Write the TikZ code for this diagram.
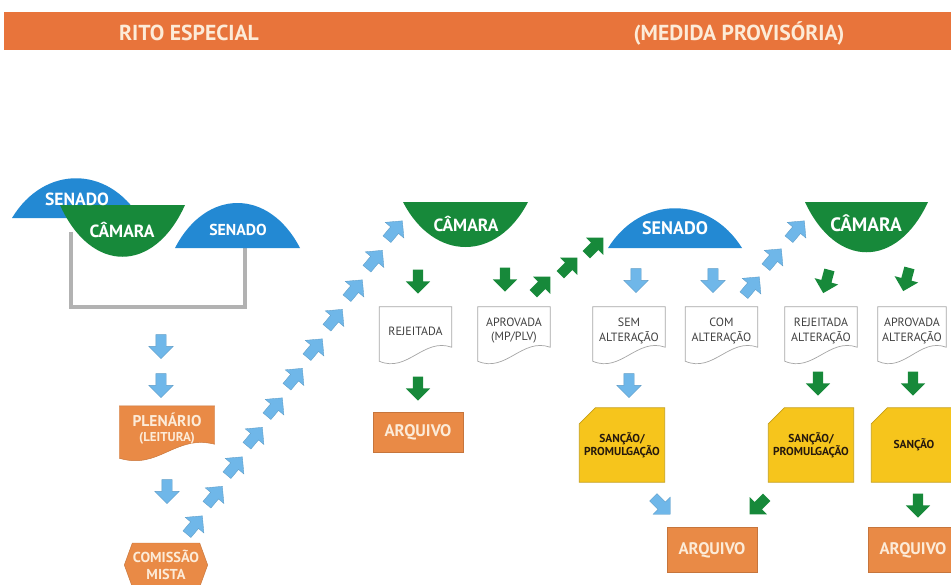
\documentclass[tikz,border=0pt]{standalone}
\usepackage{fontspec}
\setmainfont{PT Sans}
\usepackage{xcolor}
\usepackage{tikz}
\usetikzlibrary{shapes.arrows,shapes.symbols,calc,backgrounds}

\definecolor{faixa}{HTML}{E8743B}
\definecolor{azul}{HTML}{2389D3}
\definecolor{verde}{HTML}{17893A}
\definecolor{azulclaro}{HTML}{6FB7E9}
\definecolor{laranja}{HTML}{E98A46}
\definecolor{amarelo}{HTML}{F6C51C}
\definecolor{creme}{HTML}{FCEBD8}

% folha com borda ondulada em baixo
\newcommand{\docshape}[2]{%
  \begin{scope}[on background layer]
  \filldraw[#2] (#1.north west) -- (#1.north east) -- ($(#1.south east)+(0,-8)$)
    .. controls ($(#1.south)+(8,-18)$) and ($(#1.south)+(-8,18)$) .. ($(#1.south west)+(0,6)$) -- cycle;
  \end{scope}}
% caixa com o canto de cima cortado
\newcommand{\chanfro}[2]{%
  \begin{scope}[on background layer]
  \filldraw[#2] ($(#1.north west)+(0,16)$) -- ($(#1.north west)+(16,0)$) -- (#1.north east)
    -- (#1.south east) -- (#1.south west) -- cycle;
  \end{scope}}

\begin{document}
\begin{tikzpicture}[x=0.03cm,y=-0.03cm,
    seta/.style={single arrow, inner xsep=0pt, inner ysep=0.15cm, minimum height=0.72cm,
      single arrow head extend=0.21cm, single arrow head indent=0pt},
    sa/.style={seta, fill=azulclaro, draw=azulclaro!85!black, line width=0.3pt},
    sv/.style={seta, fill=verde},
    cupula/.style={text=white, font=\bfseries\fontsize{15}{16}\selectfont},
    titulo/.style={text=creme, font=\bfseries\fontsize{18.5}{20}\selectfont},
    doc/.style={minimum width=2.16cm, minimum height=1.44cm, inner sep=0pt, align=center,
      text=black!75, font=\fontsize{10.2}{12}\selectfont},
    folha/.style={fill=white, draw=black!35, line width=0.6pt},
    arq/.style={fill=laranja, draw=laranja!85!black, minimum width=2.7cm, minimum height=1.35cm,
      text=creme, font=\bfseries\fontsize{14.3}{15}\selectfont},
    sancao/.style={minimum width=2.55cm, minimum height=2.22cm, inner sep=0pt, align=center,
      text=black!80!brown, font=\bfseries\fontsize{9.8}{11.5}\selectfont},
    amarela/.style={fill=amarelo, draw=amarelo!80!black, line width=0.6pt},
    ligacao/.style={draw=black!30, line width=3.4pt}]
  \clip (0,0) rectangle (951,584);

  % faixa do titulo
  \fill[faixa] (4,12) rectangle (951,50);
  \node[titulo] (rito) at (189,33) {RITO ESPECIAL};
  \node[titulo] (mp) at (739,33) {(MEDIDA PROVISÓRIA)};

  % cupulas da esquerda
  \fill[azul] (12,218) .. controls (44,165) and (108,165) .. (140,218) -- cycle;
  \coordinate (bA) at (71,232);
  \coordinate (bB) at (245,246);
  \draw[ligacao] (bA) -- ++(0,75) -| (bB);
  \fill[verde] (60,205) .. controls (91,274) and (154,274) .. (185,205) -- cycle;
  \fill[azul] (175,248) .. controls (206,188) and (269,188) .. (300,248) -- cycle;
  \node[cupula] (senA) at (77,199) {SENADO};
  \node[cupula] (camA) at (122,230) {CÂMARA};
  \node[cupula, font=\bfseries\fontsize{13.5}{14}\selectfont] (senB) at (238,230) {SENADO};

  % cupulas da direita
  \fill[verde] (403,202) .. controls (434,262) and (497,262) .. (528,202) -- cycle;
  \fill[azul] (608,248) .. controls (641,195) and (709,195) .. (742,248) -- cycle;
  \fill[verde] (805,202) .. controls (836,269) and (897,269) .. (928,202) -- cycle;
  \node[cupula] (camB) at (466,224) {CÂMARA};
  \node[cupula, font=\bfseries\fontsize{15.5}{16}\selectfont] (senC) at (675,228) {SENADO};
  \node[cupula, font=\bfseries\fontsize{16.5}{17}\selectfont] (camC) at (866,223) {CÂMARA};

  % folhas
  \node[doc] (rej) at (415.5,331) {REJEITADA};
  \node[doc] (apr) at (514,331) {APROVADA\\(MP/PLV)};
  \node[doc] (sem) at (629,331) {SEM\\ALTERAÇÃO};
  \node[doc] (com) at (721.5,331) {COM\\ALTERAÇÃO};
  \node[doc] (rejalt) at (821,331) {REJEITADA\\ALTERAÇÃO};
  \node[doc, minimum width=2.04cm] (apralt) at (912,331) {APROVADA\\ALTERAÇÃO};
  \foreach \n in {rej,apr,sem,com,rejalt,apralt}
    \docshape{\n}{folha};

  \node[doc, minimum width=2.85cm, minimum height=1.38cm, text=creme,
    font=\bfseries\fontsize{13.3}{14}\selectfont] (plen) at (167,429)
    {PLENÁRIO\\[-1pt]{\fontsize{11}{12}\selectfont(LEITURA)}};
  \docshape{plen}{fill=laranja, draw=laranja!85!black};

  \node[signal, signal to=east and west, signal pointer angle=140, fill=laranja,
    draw=laranja!85!black, minimum width=2.5cm, minimum height=1.32cm, inner sep=0pt,
    align=center, text=creme, font=\bfseries\fontsize{12.3}{14}\selectfont] (cmista) at (166,565)
    {COMISSÃO\\MISTA};

  % arquivos e sancoes
  \node[arq, minimum height=1.2cm] (arqA) at (418,432) {ARQUIVO};
  \node[arq] (arqB) at (712,550) {ARQUIVO};
  \node[arq] (arqC) at (913,550) {ARQUIVO};
  \node[sancao] (sancA) at (622,445) {SANÇÃO/\\PROMULGAÇÃO};
  \node[sancao] (sancB) at (811,445) {SANÇÃO/\\PROMULGAÇÃO};
  \node[sancao] (sancC) at (914,445) {SANÇÃO};
  \foreach \n in {sancA,sancB,sancC}
    \chanfro{\n}{amarela};

  % setas azuis
  \node[sa, rotate=-90] (a1) at (161,344) {};
  \node[sa, rotate=-90] (a2) at (161,383) {};
  \node[sa, rotate=-90] (a3) at (167,489) {};
  \foreach \i in {0,...,10}
    \node[sa, rotate=50] (c\i) at ({193+20*\i},{527-29.5*\i}) {};
  \node[sa, rotate=-90] (a4) at (636,278) {};
  \node[sa, rotate=-90] (a5) at (713,278) {};
  \foreach \x/\y [count=\k] in {750/288,772/260,795/232}
    \node[sa, rotate=50] (d\k) at (\x,\y) {};
  \node[sa, rotate=-90] (a6) at (629,383) {};
  \node[sa, rotate=-45] (a7) at (660,504) {};

  % setas verdes
  \node[sv, rotate=-90] (v1) at (418,279) {};
  \node[sv, rotate=-90] (v2) at (505,277) {};
  \node[sv, rotate=-90] (v3) at (418,386) {};
  \foreach \x/\y [count=\k] in {540/287,567/268,593/248}
    \node[sv, rotate=45] (e\k) at (\x,\y) {};
  \node[sv, rotate=-105] (v4) at (827,279) {};
  \node[sv, rotate=-105] (v5) at (907,277) {};
  \node[sv, rotate=-90] (v6) at (818,381) {};
  \node[sv, rotate=-90] (v7) at (913,381) {};
  \node[sv, rotate=-135] (v8) at (760,504) {};
  \node[sv, rotate=-90] (v9) at (918,503) {};
\end{tikzpicture}
\end{document}
